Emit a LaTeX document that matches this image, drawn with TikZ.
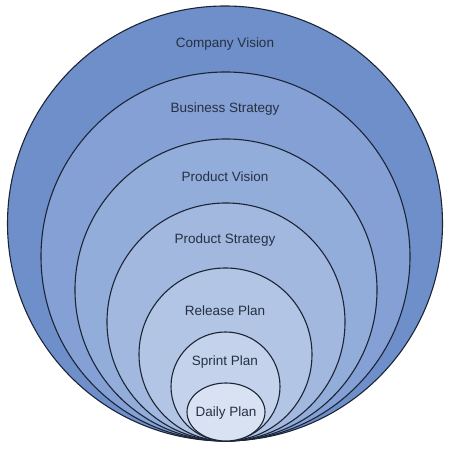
\documentclass[tikz,border=0pt]{standalone}
\usepackage{fontspec}
\setmainfont{Liberation Sans}
\usetikzlibrary{shapes.geometric}
\definecolor{ringA}{HTML}{6F8FCA}
\definecolor{ringB}{HTML}{84A0D4}
\definecolor{ringC}{HTML}{93ADDA}
\definecolor{ringD}{HTML}{A2B8DF}
\definecolor{ringE}{HTML}{B2C5E5}
\definecolor{ringF}{HTML}{C4D2EB}
\definecolor{ringG}{HTML}{D8E2F2}
\definecolor{edge}{HTML}{1C2536}
\definecolor{txt}{HTML}{263042}
\begin{document}
\begin{tikzpicture}[x=1pt,y=1pt,
  ring/.style={circle,draw=edge,line width=1.1pt,inner sep=0pt},
  lbl/.style={text=txt,font=\fontsize{13.5}{15}\selectfont,inner sep=0pt}]
\useasboundingbox (0,0) rectangle (450,449);
\node[ring,fill=ringA,minimum size=435pt] (c1) at (225,225.5) {};
\node[ring,fill=ringB,minimum size=369pt] (c2) at (225.5,192.5) {};
\node[ring,fill=ringC,minimum size=302pt] (c3) at (226,159) {};
\node[ring,fill=ringD,minimum size=238pt] (c4) at (226,127) {};
\node[ring,fill=ringE,minimum size=173pt] (c5) at (225.5,94.5) {};
\node[ring,fill=ringF,minimum size=109pt] (c6) at (225.5,62.5) {};
\node[ellipse,draw=edge,line width=1.1pt,inner sep=0pt,fill=ringG,minimum width=78pt,minimum height=58pt] (c7) at (226,37) {};
\node[lbl] (t1) at (225,405) {Company Vision};
\node[lbl] (t2) at (225,340) {Business Strategy};
\node[lbl] (t3) at (225,272) {Product Vision};
\node[lbl] (t4) at (225,209) {Product Strategy};
\node[lbl] (t5) at (225,138) {Release Plan};
\node[lbl] (t6) at (225,87) {Sprint Plan};
\node[lbl] (t7) at (226,36) {Daily Plan};
\end{tikzpicture}
\end{document}
